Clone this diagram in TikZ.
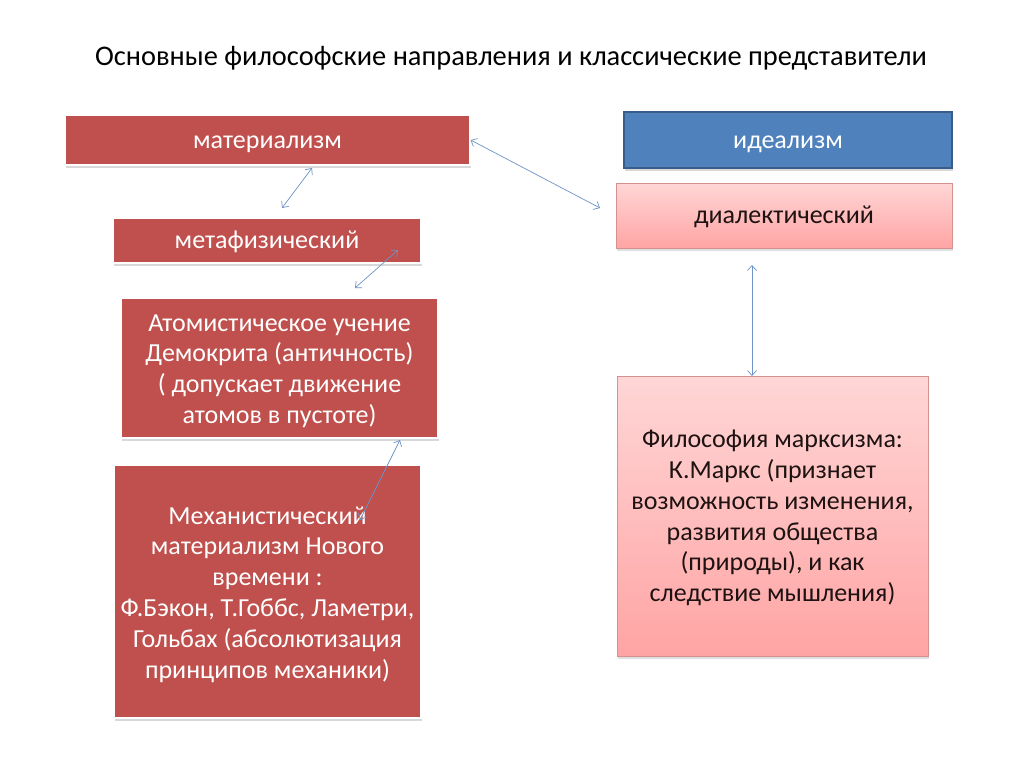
\documentclass[tikz,border=0pt]{standalone}
\usepackage{fontspec}
\setmainfont{Carlito}
\usetikzlibrary{shadows,arrows.meta,calc}
\definecolor{boxred}{HTML}{C0504D}
\definecolor{boxblue}{HTML}{4F81BD}
\definecolor{blueedge}{HTML}{385D8A}
\definecolor{pinktop}{HTML}{FFD6D6}
\definecolor{pinkbot}{HTML}{FFA4A4}
\definecolor{pinkedge}{HTML}{D59090}
\definecolor{conncol}{HTML}{6E93C6}
\definecolor{darktext}{HTML}{1E1212}
\begin{document}
\begin{tikzpicture}[x=1pt,y=-1pt,
  boxfont/.style={font=\fontsize{26}{30.8}\selectfont},
  oneline/.style={text height=18pt, text depth=2pt},
  multiline/.style={yshift=-3pt},
  redbox/.style={boxfont, fill=boxred, draw=white, line width=1.2pt, text=white, align=center, inner sep=0pt,
    drop shadow={shadow xshift=1pt,shadow yshift=-3pt,opacity=0.3}},
  bluebox/.style={boxfont, fill=boxblue, draw=blueedge, line width=1.5pt, text=white, align=center, inner sep=0pt,
    drop shadow={shadow xshift=1pt,shadow yshift=-3pt,opacity=0.3}},
  pinkbox/.style={boxfont, top color=pinktop, bottom color=pinkbot, draw=pinkedge, line width=0.6pt, text=darktext, align=center, inner sep=0pt,
    drop shadow={shadow xshift=1pt,shadow yshift=-3pt,opacity=0.25}},
  conn/.style={draw=conncol, line width=0.7pt, {Straight Barb[length=5pt,width=9pt]}-{Straight Barb[length=5pt,width=9pt]}}
]
\useasboundingbox (0,0) rectangle (1024,768);
\fill[white] (0,0) rectangle (1024,768);

\node[font=\fontsize{28.4}{32}\selectfont, text=black] (title) at (511,58) {Основные философские направления и классические представители};

\node[redbox, oneline, minimum width=405pt, minimum height=50pt] (mat) at (267.5,140) {материализм};
\node[redbox, oneline, minimum width=308pt, minimum height=45pt] (meta) at (267,240.5) {метафизический};
\node[redbox, minimum width=317pt, minimum height=140pt] (atom) at (279.5,368) {};
\node[boxfont, text=white, align=center] (atomtxt) at ($(atom.center)+(0,3)$) {Атомистическое учение\\Демокрита (античность)\\( допускает движение\\атомов в пустоте)};
\node[redbox, minimum width=307pt, minimum height=253pt] (mech) at (267.5,591.5) {};
\node[boxfont, text=white, align=center] (mechtxt) at ($(mech.center)+(0,3)$) {Механистический\\материализм Нового\\времени :\\Ф.Бэкон, Т.Гоббс, Ламетри,\\Гольбах (абсолютизация\\принципов механики)};

\node[bluebox, oneline, minimum width=328pt, minimum height=56pt] (ideal) at (788,140) {идеализм};
\node[pinkbox, oneline, minimum width=336pt, minimum height=65pt] (dial) at (784,215.5) {диалектический};
\node[pinkbox, minimum width=311pt, minimum height=280pt] (marx) at (772.5,516) {};
\node[boxfont, text=darktext, align=center] (marxtxt) at ($(marx.center)+(0,2)$) {Философия марксизма:\\К.Маркс (признает\\возможность изменения,\\развития общества\\(природы), и как\\следствие мышления)};

\coordinate (a1e) at (600,208);
\coordinate (a2s) at (312,168);
\coordinate (a2e) at (282,208);
\coordinate (a3s) at (398,250);
\coordinate (a3e) at (355,288);
\coordinate (a4s) at (360,520);
\coordinate (a4e) at (400,440);
\coordinate (a5s) at (752,265);
\coordinate (a5e) at (752,376);

\draw[conn] (mat.east) -- (a1e);
\draw[conn] (a2s) -- (a2e);
\draw[conn] (a3s) -- (a3e);
\draw[conn] (a4s) -- (a4e);
\draw[conn] (a5s) -- (a5e);
\end{tikzpicture}
\end{document}
